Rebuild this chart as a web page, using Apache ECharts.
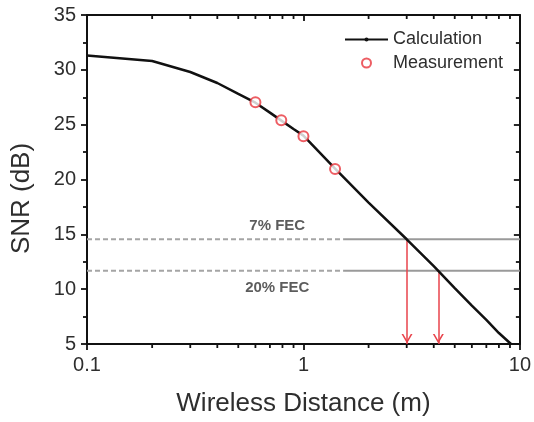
<!DOCTYPE html>
<html>
<head>
<meta charset="utf-8">
<script src="https://cdn.jsdelivr.net/npm/echarts@6/dist/echarts.min.js"></script>
<style>
  html, body { margin: 0; padding: 0; background: #fff; }
  #chart { width: 534px; height: 422px; }
</style>
</head>
<body>
<div id="chart"></div>
<script>
// calculated SNR curve
const calcDist = [0.1, 0.2, 0.3, 0.4, 0.5, 0.6, 0.7, 0.8, 0.9, 1, 1.4, 2, 3, 4, 5, 6, 7, 8, 9.1];
const calcSnr = [31.3, 30.8, 29.8, 28.8, 27.8, 27.0, 26.1, 25.3, 24.6, 24.0, 21.0, 17.9, 14.55, 12.1, 10.1, 8.5, 7.2, 6.0, 5.0];

// measured points
const measDist = [0.6, 0.79, 1.0, 1.4];
const measSnr = [27.05, 25.4, 23.95, 20.95];

// FEC thresholds
const fecNames = ['7% FEC', '20% FEC'];
const fecSnr = [14.55, 11.67];
const fecDist = [3.01, 4.2];
const fecLabelPos = [[0.757, 15.8], [0.757, 10.1]];
const dashEnd = 1.54;

const minorX = [0.2, 0.3, 0.4, 0.5, 0.6, 0.7, 0.8, 0.9, 2, 3, 4, 5, 6, 7, 8, 9];

const font = '"Liberation Sans", Arial, sans-serif';
const textColor = '#2e2e2e';
const chart = echarts.init(document.getElementById('chart'));

// V shaped arrow head, tip at the centre of its box
const arrowHead = 'path://M5,-10 L5,-10 Z M5,0 L10,9 L8.4,9 L5,2.8 L1.6,9 L0,9 Z';

const series = [];
fecSnr.forEach((v, i) => {
    series.push({
        type: 'line', data: [[0.1, v], [dashEnd, v]], symbol: 'none', silent: true,
        lineStyle: { color: '#a5a5a5', width: 2, type: [5, 3] }, z: 1
    });
    series.push({
        type: 'line', data: [[dashEnd, v], [10, v]], symbol: 'none', silent: true,
        lineStyle: { color: '#9a9a9a', width: 2 }, z: 1
    });
    series.push({
        type: 'line', data: [], silent: true,
        markLine: {
            silent: true,
            symbol: ['none', arrowHead],
            symbolSize: [11, 20],
            label: { show: false },
            lineStyle: { color: '#e8434b', width: 1.5, type: 'solid' },
            data: [[{ coord: [fecDist[i], v] }, { coord: [fecDist[i], 5] }]]
        }
    });
});

series.push({
    type: 'scatter', silent: true, symbolSize: 0,
    data: fecLabelPos.map((p, i) => ({ value: p, name: fecNames[i] })),
    label: {
        show: true, position: 'inside', formatter: '{b}',
        fontFamily: font, fontWeight: 'bold', fontSize: 15, color: '#333'
    }
});

// minor ticks of the log axis: outward at the bottom, inward at the top
series.push({
    type: 'custom', silent: true, clip: false,
    data: minorX,
    renderItem: (params, api) => {
        const x = api.coord([api.value(0), 5])[0];
        const top = params.coordSys.y;
        const bottom = top + params.coordSys.height;
        const st = { stroke: '#111', lineWidth: 1.8 };
        return {
            type: 'group',
            children: [
                { type: 'line', shape: { x1: x, y1: bottom, x2: x, y2: bottom + 4 }, style: st },
                { type: 'line', shape: { x1: x, y1: top, x2: x, y2: top + 4 }, style: st }
            ]
        };
    },
    encode: { x: 0 }
});

series.push({
    name: 'Calculation', type: 'line',
    data: calcDist.map((d, i) => [d, calcSnr[i]]),
    showSymbol: false, symbol: 'circle', symbolSize: 3,
    itemStyle: { color: '#111' },
    lineStyle: { color: '#111', width: 2.5 }, z: 5
});
series.push({
    name: 'Measurement', type: 'scatter',
    data: measDist.map((d, i) => [d, measSnr[i]]),
    symbol: 'emptyCircle', symbolSize: 10,
    itemStyle: { color: '#e8343c', borderColor: '#e8343c', borderWidth: 2.2 }, z: 6
});

const tickStyle = { color: '#111', width: 1.8 };
const xBase = {
    type: 'log', min: 0.1, max: 10, logBase: 10,
    axisLine: { lineStyle: { color: '#111', width: 2 } },
    axisTick: { length: 6, lineStyle: tickStyle },
    splitLine: { show: false }
};
const yBase = {
    type: 'value', min: 5, max: 35, interval: 5,
    axisLine: { show: true, lineStyle: { color: '#111', width: 2 } },
    axisTick: { length: 6, lineStyle: tickStyle },
    minorTick: { show: true, splitNumber: 2, length: 4, lineStyle: tickStyle },
    splitLine: { show: false }
};
const legendText = { fontFamily: font, fontSize: 18, color: textColor };

chart.setOption({
    animation: false,
    backgroundColor: '#fff',
    grid: { left: 87, right: 10, top: 15, bottom: 76 },
    legend: [
        {
            orient: 'vertical', left: 339, top: 25.5, itemWidth: 43, itemHeight: 5,
            data: ['Calculation'], textStyle: legendText
        },
        {
            orient: 'vertical', left: 356, top: 49, itemWidth: 43, itemHeight: 9,
            data: [{ name: 'Measurement', icon: 'emptyCircle' }], textStyle: legendText
        }
    ],
    xAxis: [
        Object.assign({}, xBase, {
            position: 'bottom',
            axisTick: Object.assign({}, xBase.axisTick, { inside: false }),
            name: 'Wireless Distance (m)', nameLocation: 'middle', nameGap: 47,
            nameTextStyle: { fontFamily: font, fontSize: 26, color: textColor },
            axisLabel: { fontFamily: font, fontSize: 20, color: textColor, margin: 11, formatter: v => String(v) }
        }),
        Object.assign({}, xBase, {
            position: 'top', axisLabel: { show: false },
            axisTick: Object.assign({}, xBase.axisTick, { inside: true })
        })
    ],
    yAxis: [
        Object.assign({}, yBase, {
            position: 'left',
            axisTick: Object.assign({}, yBase.axisTick, { inside: false }),
            name: 'SNR (dB)', nameLocation: 'middle', nameGap: 52.5,
            nameTextStyle: { fontFamily: font, fontSize: 26, color: textColor, padding: [0, 38, 0, 0] },
            axisLabel: { fontFamily: font, fontSize: 20, color: textColor, margin: 11 }
        }),
        Object.assign({}, yBase, {
            position: 'right', axisLabel: { show: false },
            axisTick: Object.assign({}, yBase.axisTick, { inside: true })
        })
    ],
    series: series
});
</script>
</body>
</html>
